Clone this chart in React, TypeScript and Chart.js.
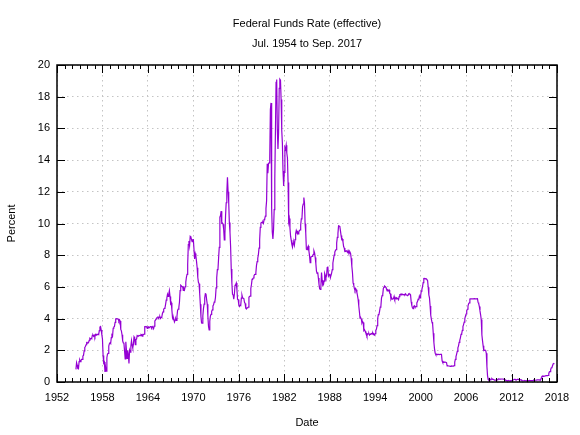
import React, { useEffect, useRef } from "react";
import { Chart, registerables } from "chart.js";

Chart.register(...registerables);

const TITLE_LINES = ["Federal Funds Rate (effective)", "Jul. 1954 to Sep. 2017"];
const X_TITLE = "Date";
const Y_TITLE = "Percent";

const START_YEAR = 1954;
const START_MONTH = 7;

const X_MIN = 1952;
const X_MAX = 2018;
const X_STEP = 6;
const X_MINOR = 1;
const Y_MIN = 0;
const Y_MAX = 20;
const Y_STEP = 2;

// Monthly effective federal funds rate, percent
const rates1950s = [
  0.8, 1.22, 1.07, 0.85, 0.83, 1.28,
  1.39, 1.29, 1.35, 1.43, 1.43, 1.64, 1.68, 1.96, 2.18, 2.24, 2.35, 2.48,
  2.45, 2.5, 2.5, 2.62, 2.75, 2.71, 2.75, 2.73, 2.95, 2.96, 2.88, 2.94,
  2.84, 3.0, 2.96, 3.0, 3.0, 3.0, 2.99, 3.24, 3.47, 3.5, 3.28, 2.98,
  2.72, 1.67, 1.2, 1.26, 0.63, 0.93, 0.68, 1.53, 1.76, 1.8, 2.27, 2.42,
  2.48, 2.43, 2.8, 2.96, 2.9, 3.39, 3.47, 3.5, 3.76, 3.98, 4.0, 3.99,
];
const rates1960s = [
  3.99, 3.97, 3.84, 3.92, 3.85, 3.32, 3.23, 2.98, 2.6, 2.47, 2.44, 1.98,
  1.45, 2.54, 2.02, 1.49, 1.98, 1.73, 1.17, 2.0, 1.88, 2.26, 2.61, 2.33,
  2.15, 2.37, 2.85, 2.78, 2.36, 2.68, 2.71, 2.93, 2.9, 2.9, 2.94, 2.93,
  2.92, 3.0, 2.98, 2.9, 3.0, 2.99, 3.02, 3.49, 3.48, 3.5, 3.48, 3.38,
  3.48, 3.48, 3.43, 3.47, 3.5, 3.5, 3.42, 3.5, 3.45, 3.36, 3.52, 3.85,
  3.9, 3.98, 4.04, 4.09, 4.1, 4.04, 4.09, 4.12, 4.01, 4.08, 4.1, 4.32,
  4.42, 4.6, 4.65, 4.67, 4.9, 5.17, 5.3, 5.53, 5.4, 5.53, 5.76, 5.4,
  4.94, 5.0, 4.53, 4.05, 3.94, 3.98, 3.79, 3.9, 3.99, 3.88, 4.13, 4.51,
  4.6, 4.71, 5.05, 5.76, 6.11, 6.07, 6.02, 6.03, 5.78, 5.91, 5.82, 6.02,
  6.3, 6.61, 6.79, 7.41, 8.67, 8.9, 8.61, 9.19, 9.15, 9.0, 8.85, 8.97,
];
const rates1970s = [
  8.98, 8.98, 7.76, 8.1, 7.95, 7.61, 7.21, 6.61, 6.29, 6.2, 5.6, 4.9,
  4.14, 3.72, 3.71, 4.16, 4.63, 4.91, 5.31, 5.57, 5.55, 5.2, 4.91, 4.14,
  3.5, 3.29, 3.83, 4.17, 4.27, 4.46, 4.55, 4.8, 4.87, 5.04, 5.06, 5.33,
  5.94, 6.58, 7.09, 7.12, 7.84, 8.49, 10.4, 10.5, 10.78, 10.01, 10.03, 9.95,
  9.65, 8.97, 9.35, 10.51, 11.31, 11.93, 12.92, 12.01, 11.34, 10.06, 9.45, 8.53,
  7.13, 6.24, 5.54, 5.49, 5.22, 5.55, 6.1, 6.14, 6.24, 5.82, 5.22, 5.2,
  4.87, 4.77, 4.84, 4.82, 5.29, 5.48, 5.31, 5.29, 5.25, 5.03, 4.95, 4.65,
  4.61, 4.68, 4.69, 4.73, 5.35, 5.39, 5.42, 5.9, 6.14, 6.47, 6.51, 6.56,
  6.7, 6.78, 6.79, 6.89, 7.36, 7.6, 7.81, 8.04, 8.45, 8.96, 9.76, 10.03,
  10.07, 10.06, 10.09, 10.01, 10.24, 10.29, 10.47, 10.94, 11.43, 13.77, 13.18, 13.78,
];
const rates1980s = [
  13.82, 14.13, 17.19, 17.61, 10.98, 9.47, 9.03, 9.61, 10.87, 12.81, 15.85, 18.9,
  19.08, 15.93, 14.7, 15.72, 18.52, 19.1, 19.04, 17.82, 15.87, 15.08, 13.31, 12.37,
  13.22, 14.78, 14.68, 14.94, 14.45, 14.15, 12.59, 10.12, 10.31, 9.71, 9.2, 8.95,
  8.68, 8.51, 8.77, 8.8, 8.63, 8.98, 9.37, 9.56, 9.45, 9.48, 9.34, 9.47,
  9.56, 9.59, 9.91, 10.29, 10.32, 11.06, 11.23, 11.64, 11.3, 9.99, 9.43, 8.38,
  8.35, 8.5, 8.58, 8.27, 7.97, 7.53, 7.88, 7.9, 7.92, 7.99, 8.05, 8.27,
  8.14, 7.86, 7.48, 6.99, 6.85, 6.92, 6.56, 6.17, 5.89, 5.85, 6.04, 6.91,
  6.43, 6.1, 6.13, 6.37, 6.85, 6.73, 6.58, 6.73, 7.22, 7.29, 6.69, 6.77,
  6.83, 6.58, 6.58, 6.87, 7.09, 7.51, 7.75, 8.01, 8.19, 8.3, 8.35, 8.76,
  9.12, 9.36, 9.85, 9.84, 9.81, 9.53, 9.24, 8.99, 9.02, 8.84, 8.55, 8.45,
];
const rates1990s = [
  8.23, 8.24, 8.28, 8.26, 8.18, 8.29, 8.15, 8.13, 8.2, 8.11, 7.81, 7.31,
  6.91, 6.25, 6.12, 5.91, 5.78, 5.9, 5.82, 5.66, 5.45, 5.21, 4.81, 4.43,
  4.03, 4.06, 3.98, 3.73, 3.82, 3.76, 3.25, 3.3, 3.22, 3.1, 3.09, 2.92,
  3.02, 3.03, 3.07, 2.96, 3.0, 3.04, 3.06, 3.03, 3.09, 2.99, 3.02, 2.96,
  3.05, 3.25, 3.34, 3.56, 4.01, 4.25, 4.26, 4.47, 4.73, 4.76, 5.29, 5.45,
  5.53, 5.92, 5.98, 6.05, 6.01, 6.0, 5.85, 5.74, 5.8, 5.76, 5.8, 5.6,
  5.56, 5.22, 5.31, 5.22, 5.24, 5.27, 5.4, 5.22, 5.3, 5.24, 5.31, 5.29,
  5.25, 5.19, 5.39, 5.51, 5.5, 5.56, 5.52, 5.54, 5.54, 5.5, 5.52, 5.5,
  5.56, 5.51, 5.49, 5.45, 5.49, 5.56, 5.54, 5.55, 5.51, 5.07, 4.83, 4.68,
  4.63, 4.76, 4.81, 4.74, 4.74, 4.76, 4.99, 5.07, 5.22, 5.2, 5.42, 5.3,
];
const rates2000s = [
  5.45, 5.73, 5.85, 6.02, 6.27, 6.53, 6.54, 6.5, 6.52, 6.51, 6.51, 6.4,
  5.98, 5.49, 5.31, 4.8, 4.21, 3.97, 3.77, 3.65, 3.07, 2.49, 2.09, 1.82,
  1.73, 1.74, 1.73, 1.75, 1.75, 1.75, 1.73, 1.74, 1.75, 1.75, 1.34, 1.24,
  1.24, 1.26, 1.25, 1.26, 1.26, 1.22, 1.01, 1.03, 1.01, 1.01, 1.0, 0.98,
  1.0, 1.01, 1.0, 1.0, 1.0, 1.03, 1.26, 1.43, 1.61, 1.76, 1.93, 2.16,
  2.28, 2.5, 2.63, 2.79, 3.0, 3.04, 3.26, 3.5, 3.62, 3.78, 4.0, 4.16,
  4.29, 4.49, 4.59, 4.79, 4.94, 4.99, 5.24, 5.25, 5.25, 5.25, 5.25, 5.24,
  5.25, 5.26, 5.26, 5.25, 5.25, 5.25, 5.26, 5.02, 4.94, 4.76, 4.49, 4.24,
  3.94, 2.98, 2.61, 2.28, 1.98, 2.0, 2.01, 2.0, 1.81, 0.97, 0.39, 0.16,
  0.15, 0.22, 0.18, 0.15, 0.18, 0.21, 0.16, 0.16, 0.15, 0.12, 0.12, 0.12,
];
const rates2010s = [
  0.11, 0.13, 0.16, 0.2, 0.2, 0.18, 0.18, 0.19, 0.19, 0.19, 0.19, 0.18,
  0.17, 0.16, 0.14, 0.1, 0.09, 0.09, 0.07, 0.1, 0.08, 0.07, 0.08, 0.07,
  0.08, 0.1, 0.13, 0.14, 0.16, 0.16, 0.16, 0.13, 0.14, 0.16, 0.16, 0.16,
  0.14, 0.15, 0.14, 0.15, 0.11, 0.09, 0.09, 0.08, 0.08, 0.09, 0.08, 0.09,
  0.07, 0.07, 0.08, 0.09, 0.09, 0.1, 0.09, 0.09, 0.09, 0.09, 0.09, 0.12,
  0.11, 0.11, 0.11, 0.12, 0.12, 0.13, 0.13, 0.14, 0.14, 0.12, 0.12, 0.24,
  0.34, 0.38, 0.36, 0.37, 0.37, 0.38, 0.39, 0.4, 0.4, 0.4, 0.41, 0.54,
  0.65, 0.66, 0.79, 0.9, 0.91, 1.04, 1.15, 1.16, 1.15,
];

const LINE_COLOR = "#9400d3";
const GRID_COLOR = "#c4c4c4";
const FONT_FAMILY = "'Liberation Sans', Arial, sans-serif";

const gnuFrame = {
  id: "gnuFrame",
  afterDraw(chart: any) {
    const { ctx, chartArea: a, scales } = chart;
    const xs = scales.x;
    const ys = scales.y;
    ctx.save();
    ctx.strokeStyle = "#000";
    ctx.lineWidth = 1;
    ctx.beginPath();
    for (let yr = X_MIN; yr <= X_MAX; yr += X_MINOR) {
      const px = Math.round(xs.getPixelForValue(yr)) + 0.5;
      const major = (yr - X_MIN) % X_STEP === 0;
      const len = major ? 8 : 4;
      ctx.moveTo(px, a.bottom);
      ctx.lineTo(px, a.bottom - len);
      ctx.moveTo(px, a.top);
      ctx.lineTo(px, a.top + len);
    }
    ys.ticks.forEach((t: any) => {
      const py = Math.round(ys.getPixelForValue(t.value)) + 0.5;
      ctx.moveTo(a.left, py);
      ctx.lineTo(a.left + 8, py);
      ctx.moveTo(a.right, py);
      ctx.lineTo(a.right - 8, py);
    });
    ctx.stroke();
    ctx.lineWidth = 1.5;
    ctx.strokeRect(Math.round(a.left), Math.round(a.top), Math.round(a.right) - Math.round(a.left), Math.round(a.bottom) - Math.round(a.top));
    ctx.restore();
  },
};

export default function App() {
  const ref = useRef<HTMLCanvasElement>(null);

  useEffect(() => {
    const rates = [
      ...rates1950s,
      ...rates1960s,
      ...rates1970s,
      ...rates1980s,
      ...rates1990s,
      ...rates2000s,
      ...rates2010s,
    ];
    const points = rates.map((v, i) => ({
      x: START_YEAR + (START_MONTH - 1 + i) / 12,
      y: v,
    }));
    const tickFont = { family: FONT_FAMILY, size: 11 };
    const chart = new Chart(ref.current as HTMLCanvasElement, {
      type: "line",
      data: {
        datasets: [
          {
            data: points,
            borderColor: LINE_COLOR,
            borderWidth: 1.2,
            pointRadius: 0,
            tension: 0,
            fill: false,
          },
        ],
      },
      options: {
        responsive: false,
        animation: false,
        devicePixelRatio: 1,
        layout: { padding: { left: 0, right: 23, top: 0, bottom: 0 } },
        plugins: {
          legend: { display: false },
          tooltip: { enabled: false },
          title: {
            display: true,
            text: TITLE_LINES,
            fullSize: false,
            color: "#000",
            font: { family: FONT_FAMILY, size: 11, weight: "normal", lineHeight: "20px" },
            padding: { top: 13.5, bottom: 11.5 },
          },
        },
        scales: {
          x: {
            type: "linear",
            min: X_MIN,
            max: X_MAX,
            ticks: {
              stepSize: X_STEP,
              color: "#000",
              font: tickFont,
              padding: 9,
              maxRotation: 0,
              autoSkip: false,
              callback: (v: any) => String(v),
            },
            grid: { color: GRID_COLOR, drawTicks: false, lineWidth: 1 },
            border: { display: false, dash: [1.5, 3.5] },
            title: {
              display: true,
              text: X_TITLE,
              color: "#000",
              font: tickFont,
              padding: { top: 0, bottom: 5 },
            },
            afterFit: (s: any) => {
              s.height = 53;
            },
          },
          y: {
            type: "linear",
            min: Y_MIN,
            max: Y_MAX,
            ticks: {
              stepSize: Y_STEP,
              color: "#000",
              font: tickFont,
              padding: 7,
              callback: (v: any) => String(v),
            },
            grid: { color: GRID_COLOR, drawTicks: false, lineWidth: 1 },
            border: { display: false, dash: [1.5, 3.5] },
            title: {
              display: true,
              text: Y_TITLE,
              color: "#000",
              font: tickFont,
              padding: { top: 5, bottom: 0 },
            },
            afterFit: (s: any) => {
              s.width = 57;
            },
          },
        },
      },
      plugins: [gnuFrame],
    } as any);
    return () => chart.destroy();
  }, []);

  return (
    <div style={{ position: "absolute", left: 0, top: 0, width: 580, height: 435, background: "#fff" }}>
      <canvas ref={ref} width={580} height={435} style={{ display: "block" }} />
    </div>
  );
}
